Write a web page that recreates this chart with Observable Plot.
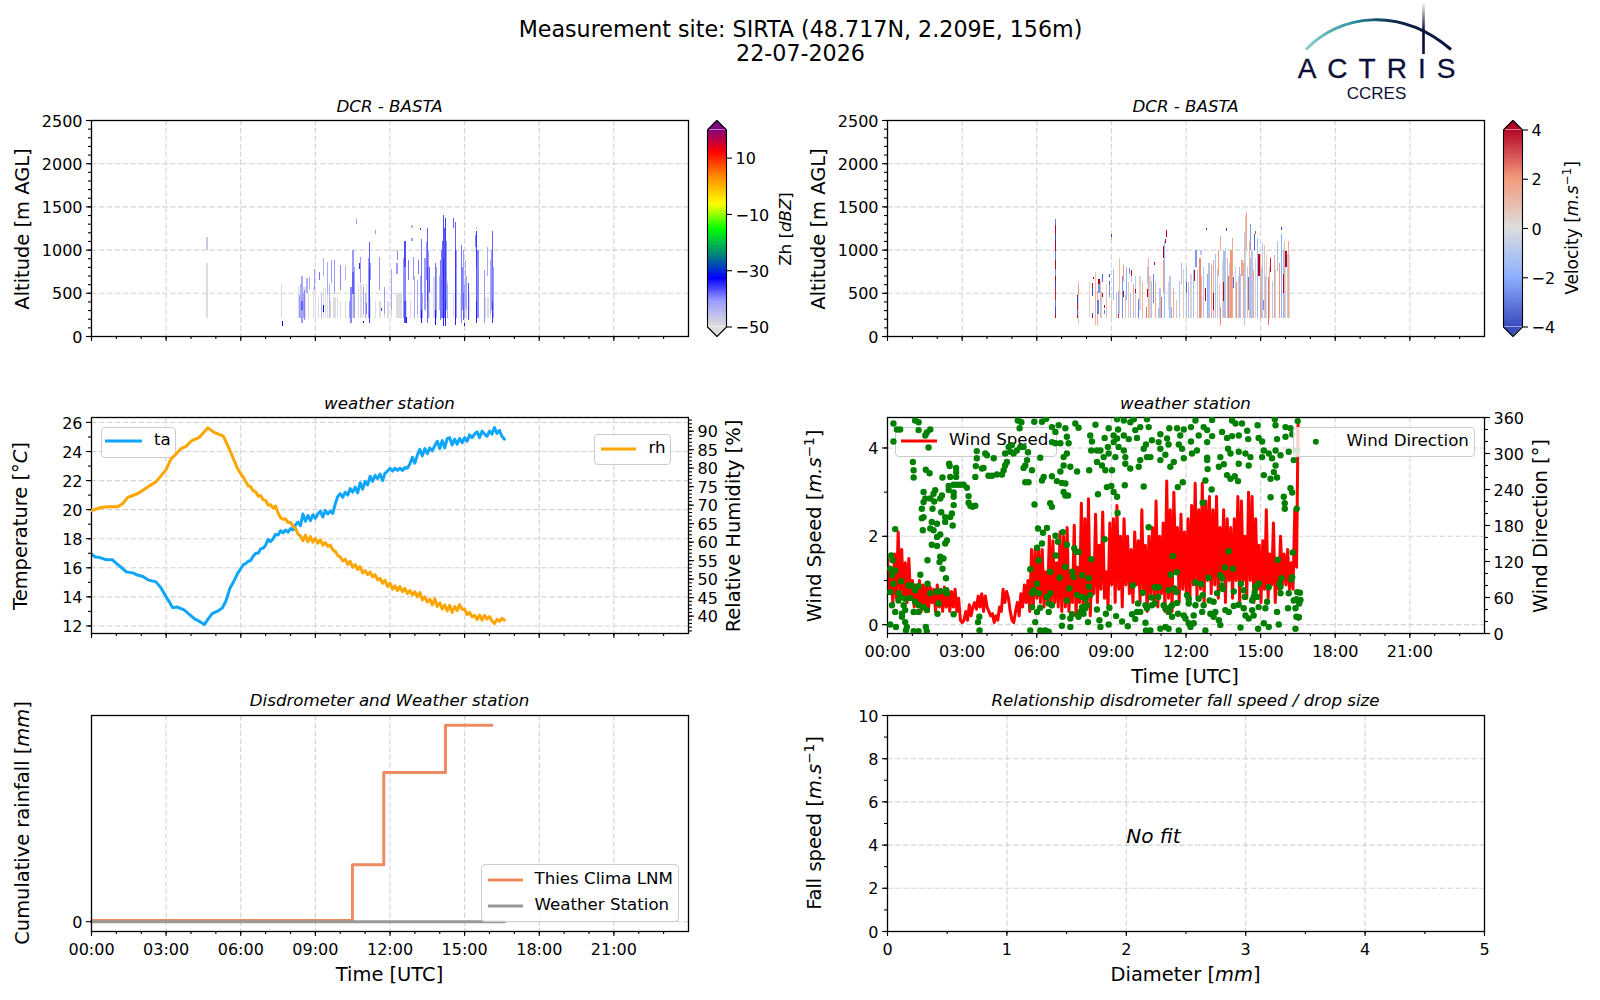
<!DOCTYPE html>
<html><head><meta charset="utf-8">
<script src="https://cdn.jsdelivr.net/npm/d3@7"></script>
<script src="https://cdn.jsdelivr.net/npm/@observablehq/plot@0.6"></script>
<style>
html,body{margin:0;padding:0;background:#fff;font-family:"DejaVu Sans",sans-serif;color:#000}
#page{position:relative;width:1600px;height:1000px;overflow:hidden}
.t{position:absolute;white-space:nowrap;transform:translate(-50%,-50%);line-height:1}
.v{position:absolute;white-space:nowrap;transform:translate(-50%,-50%) rotate(-90deg);line-height:1}
.v sup{font-size:.7em;line-height:0}
.leg{position:absolute;box-sizing:border-box;background:rgba(255,255,255,.8);border:1px solid #ccc;border-radius:4px}
.lt{position:absolute;white-space:nowrap;font-size:16.67px;line-height:1;transform:translateY(calc(-50% - .5px))}
.ll{position:absolute;height:3px;transform:translateY(-50%)}
.ld{position:absolute;width:6.4px;height:6.4px;border-radius:50%;background:green;transform:translate(-50%,-50%)}
</style></head><body><div id="page"></div>
<script>
// ---------- Radar reflectivity (DCR - BASTA) ----------
const zhBaseHours=[4.64,7.63,8.33,8.4,8.45,8.52,8.58,8.73,8.93,9.0,9.13,9.33,9.41,9.47,9.6,9.74,9.8,9.87,10.0,10.2,10.41,10.47,10.54,10.74,10.83,10.94,11.05,11.21,11.41,11.59,11.77,11.91,12.06,12.28,12.36,12.44,12.66,12.82,13.09,13.29,13.56,13.76,14.03,14.12,14.23,14.3,14.56,14.83,14.94,15.05,15.17,15.5,15.84,15.93,16.04,16.12];
const zhBaseTops=[850,600,570,570,570,570,570,500,570,570,450,560,560,560,420,450,450,450,400,400,570,570,570,600,600,600,600,450,400,400,380,400,450,500,500,500,420,400,500,400,450,680,650,650,650,650,500,500,500,500,500,420,450,450,450,450];
// pale echoes under the stronger streaks: [hour, bottom, top, dBZ]
const zhHaze=[[13.22,205,700,-42],[13.3,205,500,-43],[13.4,300,900,-42],[13.55,205,1000,-41],[13.58,500,800,-38],[14.0,300,700,-44],[14.09,205,1000,-39],[14.2,205,1250,-38],[14.27,300,1100,-41],[14.32,205,600,-43],[14.68,205,1000,-41],[14.9,300,800,-40],[15.0,205,600,-42],[15.08,300,700,-43],[15.53,205,1000,-40],[16.07,300,1000,-41],[16.16,205,800,-42],[12.55,205,900,-41],[12.98,205,700,-43],[13.87,205,800,-41],[11.13,205,900,-41],[11.0,205,500,-44],[10.55,205,800,-43],[10.38,205,400,-42],[9.55,205,600,-44],[9.25,205,500,-45],[8.42,205,600,-43],[8.5,205,500,-42]];
// [hour, bottom, top, dBZ]
const zhEchoes=[[4.64,990,1150,-47],[7.68,110,170,-33],[8.37,205,475,-41],[8.46,150,300,-42],[8.46,300,400,-38],[8.46,400,690,-43],[8.56,180,530,-40],[8.66,500,670,-44],[8.77,530,680,-44],[8.97,530,780,-42],[9.17,650,745,-39],[9.33,690,900,-44],[9.31,280,360,-33],[9.47,490,860,-43],[9.63,610,880,-42],[9.78,490,880,-41],[10.0,530,820,-40],[10.21,650,820,-45],[10.43,150,570,-40],[10.51,490,740,-38],[10.51,740,1000,-41],[10.57,260,650,-42],[10.81,610,920,-41],[10.78,780,840,-35],[10.94,260,570,-42],[10.94,150,170,-32],[11.04,260,380,-39],[11.18,150,400,-36],[11.18,400,800,-36],[11.18,800,1090,-38],[11.21,650,840,-41],[10.66,1296,1350,-41],[11.42,1180,1225,-41],[11.57,530,920,-41],[11.64,290,320,-36],[11.79,260,570,-41],[12.06,300,780,-43],[12.31,880,1000,-40],[12.28,720,840,-41],[12.6,150,400,-37],[12.6,400,800,-40],[12.6,800,1100,-37],[12.66,150,225,-34],[12.75,650,880,-39],[12.88,1250,1290,-45],[12.88,1100,1140,-42],[12.93,650,920,-41],[13.09,260,650,-43],[13.14,720,880,-39],[13.27,150,300,-34],[13.27,300,700,-39],[13.27,700,1120,-39],[13.23,1225,1245,-35],[13.5,150,400,-38],[13.5,400,800,-36],[13.5,800,1250,-38],[13.45,650,1090,-40],[13.83,130,300,-34],[13.83,300,840,-39],[14.03,190,880,-39],[14.16,110,500,-35],[14.16,500,900,-35],[14.16,900,1400,-37],[14.23,110,400,-35],[14.23,400,1360,-36],[14.07,650,920,-40],[14.11,700,1100,-38],[14.56,1250,1370,-38],[14.63,130,500,-35],[14.63,500,1000,-36],[14.63,1000,1320,-38],[14.87,150,500,-40],[14.87,500,1050,-39],[14.95,190,500,-38],[14.95,500,990,-41],[15.03,340,880,-44],[15.0,110,150,-32],[15.14,190,610,-37],[15.49,150,400,-35],[15.49,400,800,-38],[15.49,800,1210,-36],[15.43,1030,1170,-40],[15.49,1240,1265,-46],[15.8,150,760,-41],[15.92,690,1030,-43],[16.12,150,400,-36],[16.12,400,800,-39],[16.12,800,1210,-38],[16.04,260,880,-43]];
const zhStops=[-50,-41,-33,-25,-15.5,-6.7,3,11.8,20];
const zhColors=["#dddddd","#9a9aff","#0000ff","#008080","#00ff00","#ffff00","#ff8c00","#ff0000","#800080"];
// ---------- Radar velocity (DCR - BASTA) ----------
const velLight=[[8.12,205,620,.3],[8.6,205,520,-.8],[8.8,205,600,.8],[9.2,205,500,-1],[9.56,205,480,.9],[9.76,205,500,-1.4],[9.95,205,700,-.9],[10.25,205,620,1.2],[10.55,205,700,.3],[10.78,205,620,1.3],[10.95,205,560,-1.1],[11.35,205,700,-.9],[11.5,205,560,1.5],[11.9,205,780,.6],[12.1,205,620,-1.4],[12.2,205,720,.4],[12.45,205,760,-1],[12.62,205,700,1.4],[12.92,205,850,-1.2],[13.1,205,880,1.4],[13.26,205,780,-.8],[13.34,205,600,.6],[13.45,205,880,.2],[13.52,205,980,-1.3],[13.65,205,900,1.1],[13.76,205,850,-1],[13.8,205,1000,2],[13.98,205,800,-.6],[14.1,205,700,.7],[14.16,205,800,-1.6],[14.3,205,850,1.6],[14.36,130,1200,-1],[14.54,205,1100,1.2],[14.6,205,900,-1.4],[14.8,205,900,.3],[14.98,205,950,1.6],[15.03,205,800,-1.1],[15.15,205,1050,.8],[15.2,205,700,-1],[15.36,205,800,1.4],[15.6,205,780,-.7],[15.75,205,850,2],[15.9,205,1000,-1.6],[16.0,205,900,.3],[16.12,205,1100,1.6],[16.17,205,950,.2]];
const velEchoes=[[6.76,205,260,4],[6.76,260,330,-4],[6.76,330,420,-3],[6.76,420,560,3.6],[6.76,560,640,-4],[6.76,640,700,4],[6.76,700,780,-2.5],[6.76,780,880,4],[6.76,880,980,-3],[6.76,980,1100,4],[6.76,1100,1180,-4],[6.76,1180,1280,4],[6.76,1280,1350,-3],
[7.62,205,240,4],[7.62,240,300,-3],[7.62,300,380,3.5],[7.62,380,450,-4],[7.62,450,470,4],[7.69,130,270,.2],[7.69,270,470,.1],[7.69,470,590,2.2],[7.69,590,650,.2],
[8.25,205,230,4],[8.25,230,270,-4],[8.25,460,570,-4],[8.25,570,610,4],[8.28,660,680,4],[8.35,130,600,1.2],[8.35,600,740,.7],[8.43,130,520,1.5],[8.46,260,420,-3],[8.5,600,660,4],[8.5,500,600,-2.5],[8.56,205,640,1.1],[8.65,620,720,-3.5],[8.65,450,500,4],[8.73,320,360,4],[8.73,260,300,-3],
[8.93,450,590,-2.5],[8.93,590,640,-3.5],[8.93,680,720,-4],[8.99,1110,1150,1.5],[8.99,1150,1180,-4],[9.02,205,420,.8],[9.1,420,780,-1.5],[9.27,205,260,3.5],[9.27,260,520,-2],[9.34,250,900,1],[9.43,205,700,-2.6],[9.5,640,820,2],[9.5,450,520,4],[9.6,420,800,-2],[9.68,205,630,.6],[9.72,720,790,-2.8],[9.82,700,760,4],[9.82,620,680,-1],[9.88,205,600,1.5],[9.98,500,540,4],[10.1,205,430,-3],[10.15,300,700,.4],
[10.4,205,330,2.5],[10.45,450,540,4],[10.45,600,800,-1.2],[10.48,205,900,1.4],[10.6,205,640,-1.2],[10.68,380,720,-2.8],[10.72,820,860,4],[10.88,205,320,-1.2],[11.0,205,450,2.5],[11.08,900,1040,4],[11.08,500,880,2],[11.12,205,1100,-1.5],[11.18,1080,1120,4],[11.2,1150,1230,4],[11.28,300,620,.2],[11.42,205,340,-2],[11.6,205,420,1],[11.74,205,640,-1],[11.82,600,840,-1.4],[12.0,205,800,-1.2],[12.0,500,620,-3.5],[12.3,205,780,-1.3],[12.33,640,760,4],[12.4,800,1000,-2.5],[12.56,205,900,2.2],[12.6,940,990,-1],[12.7,205,800,-1],[12.78,400,560,4],[12.82,1230,1250,4],[12.85,205,720,-2],[13.02,205,820,1.8],[13.12,300,500,4],[13.2,205,950,-1.2],[13.3,700,1000,2],[13.38,130,330,2.2],[13.4,1000,1160,1.5],[13.5,400,620,4],[13.58,205,1020,-1],[13.62,1210,1250,-4],[13.7,205,700,2.5],[13.85,205,1130,1.6],[13.92,560,680,-3.4],[14.04,205,620,2.1],[14.2,205,720,-1.2],[14.25,700,880,1.7],[14.4,205,1400,.7],[14.43,1000,1440,1.7],[14.47,205,800,-.8],[14.5,300,680,-3],[14.6,1000,1300,-2.5],[14.65,205,980,-1],[14.72,205,760,1.5],[14.76,1000,1180,-3.5],[14.8,1180,1220,3],[14.88,205,1130,-1.4],[14.93,700,950,4],[15.0,205,500,2],[15.08,205,1080,-1],[15.12,300,420,-2.6],[15.25,205,950,.2],[15.3,130,680,2.5],[15.4,740,900,3.8],[15.48,205,640,-1],[15.55,205,940,1.6],[15.68,750,1100,-1.2],[15.82,205,1180,-2],[15.85,1230,1260,-4],[15.9,500,720,4],[15.96,205,1100,1.2],[16.02,800,980,4],[16.08,205,950,-.8]];
const velStops=[-4,-2,0,2,4];
const velColors=["#3b4cc0","#8db0fe","#dddddd","#f49a7b","#b40426"];
// ---------- Weather station: temperature and humidity ----------
const taHours=[0,.15,.3,.43,.6,.84,1.0,1.25,1.4,1.66,1.85,2.07,2.3,2.59,2.8,3.0,3.15,3.26,3.45,3.72,3.9,4.13,4.3,4.54,4.7,4.85,5.05,5.26,5.4,5.56,5.7,5.87,6.0,6.1,6.2,6.3,6.4,6.5,6.6,6.7,6.8,6.9,7.0,7.1,7.2,7.3,7.4,7.5,7.6,7.7,7.8,7.9,8.0,8.1,8.2,8.3,8.4,8.5,8.6,8.7,8.8,8.9,9.0,9.1,9.2,9.3,9.4,9.5,9.6,9.7,9.8,9.9,10.0,10.1,10.2,10.3,10.4,10.5,10.6,10.7,10.8,10.9,11.0,11.1,11.2,11.3,11.4,11.5,11.6,11.7,11.8,11.9,12.0,12.1,12.2,12.3,12.4,12.5,12.6,12.7,12.8,12.9,13.0,13.1,13.2,13.3,13.4,13.5,13.6,13.7,13.8,13.9,14.0,14.1,14.2,14.3,14.4,14.5,14.6,14.7,14.8,14.9,15.0,15.1,15.2,15.3,15.4,15.5,15.6,15.7,15.8,15.9,16.0,16.1,16.2,16.3,16.4,16.5,16.6];
const taValues=[16.93,16.75,16.72,16.65,16.55,16.55,16.3,15.95,15.72,15.65,15.5,15.4,15.15,15.03,14.6,14.0,13.6,13.26,13.3,13.1,12.85,12.5,12.35,12.1,12.5,12.85,13.0,13.24,13.7,14.57,15.0,15.6,15.95,16.2,16.3,16.45,16.5,16.8,17.0,17.0,17.3,17.35,17.55,17.95,17.8,18.0,18.3,18.25,18.55,18.4,18.6,18.45,18.7,18.6,18.95,19.15,18.9,19.7,19.2,19.6,19.25,19.65,19.4,19.7,19.9,19.5,19.95,19.7,19.9,19.75,20.4,20.9,21.1,20.85,21.2,21.0,21.45,21.2,21.55,21.15,21.85,21.4,21.95,21.7,22.3,21.95,22.35,22.15,22.45,22.0,22.5,22.65,22.85,22.65,22.85,22.7,22.85,22.7,22.9,22.85,23.15,23.6,23.2,23.75,24.15,23.7,24.2,23.85,24.25,24.05,24.4,24.7,24.2,24.75,24.25,24.9,24.95,24.45,24.85,24.5,24.9,24.6,24.95,24.7,25.15,24.95,25.2,25.35,24.95,25.4,25.2,25.05,25.4,25.2,25.65,25.25,25.45,25.05,24.85];
const rhHours=[0,.33,.64,1.05,1.25,1.46,1.87,2.28,2.59,3.0,3.2,3.35,3.6,3.8,4.02,4.33,4.68,4.95,5.3,5.56,5.87,6.0,6.1,6.2,6.3,6.4,6.5,6.6,6.7,6.8,6.9,7.0,7.1,7.2,7.3,7.4,7.5,7.6,7.7,7.8,7.9,8.0,8.1,8.2,8.3,8.4,8.5,8.6,8.7,8.8,8.9,9.0,9.1,9.2,9.3,9.4,9.5,9.6,9.7,9.8,9.9,10.0,10.1,10.2,10.3,10.4,10.5,10.6,10.7,10.8,10.9,11.0,11.1,11.2,11.3,11.4,11.5,11.6,11.7,11.8,11.9,12.0,12.1,12.2,12.3,12.4,12.5,12.6,12.7,12.8,12.9,13.0,13.1,13.2,13.3,13.4,13.5,13.6,13.7,13.8,13.9,14.0,14.1,14.2,14.3,14.4,14.5,14.6,14.7,14.8,14.9,15.0,15.1,15.2,15.3,15.4,15.5,15.6,15.7,15.8,15.9,16.0,16.1,16.2,16.3,16.4,16.5,16.6];
const rhValues=[68.5,69.3,69.55,69.55,70.4,72.1,73.15,75,76.3,79.6,82.5,83.5,85.3,85.9,87.4,88.3,90.9,89.6,88.65,84.9,79.9,78.5,77.6,76.4,75.2,75.0,73.9,73.6,72.4,72.6,71.5,71.3,70.0,70.1,69.2,69.8,67.9,66.6,66.2,66.3,65.3,65.4,64.3,63.8,62.2,61.6,60.4,61.9,60.1,61.5,60.0,61.0,59.7,60.6,59.2,59.9,58.8,59.2,57.9,57.5,56.4,56.0,54.9,55.4,54.0,54.8,53.2,53.9,52.6,53.4,51.7,52.3,51.2,51.9,50.6,51.2,49.8,50.2,48.9,49.7,48.0,48.9,47.3,48.2,46.9,48.0,46.6,47.5,46.1,46.9,45.7,46.6,45.2,46.4,44.4,45.2,43.8,44.6,43.0,44.7,42.6,43.6,41.9,43.0,41.4,42.9,41.0,42.6,41.5,43.1,41.8,41.9,40.4,41.0,39.8,40.2,39.1,40.3,38.9,40.2,39.2,39.9,38.7,38.0,39.1,38.6,39.4,38.9];
// ---------- Weather station: wind ----------
const windStepHours=.0715;
const windSpeed=[1.5,.7,1.2,.5,1.6,.6,2.1,.7,1.7,.6,1.4,.5,1.5,.6,
1.0,.4,.9,.5,1.0,.3,.9,.4,.95,.3,.85,.5,.8,.3,
.9,.4,.8,.3,.85,.4,.8,.3,.75,.4,.8,.3,.6,.1,
.05,.1,.3,.1,.45,.2,.4,.5,.35,.65,.4,.7,.3,.65,
.4,.3,.2,.25,.05,.2,.1,.4,.3,.8,.5,.75,.6,.3,
.1,.05,.3,.5,.2,.7,.4,.9,.5,1.0,.3,1.7,.4,1.7,
.6,1.75,.5,1.7,.4,1.2,.5,2.0,.4,1.9,.5,1.4,.4,2.1,
.3,2.0,.4,2.2,.3,1.2,.5,2.25,.2,1.3,.5,2.75,.3,2.4,
.4,2.85,.2,1.5,.7,2.5,.5,1.8,.8,2.55,.6,1.2,.4,2.3,
.9,2.4,.5,2.7,.8,2.0,.4,2.4,.9,2.0,.7,1.7,.5,2.1,
.9,1.9,.5,2.6,.8,1.8,.3,2.0,.7,2.2,.5,2.8,.4,2.0,
.7,2.3,.3,3.25,.6,2.6,.3,3.0,1.2,2.2,.5,2.5,.8,2.1,
.7,2.4,.5,2.7,.9,3.2,.6,2.6,.8,3.2,.5,2.8,1.0,2.9,
.7,2.6,.9,2.9,.6,2.2,1.0,2.6,.5,2.4,1.0,2.2,.6,2.4,
1.0,2.9,.5,2.8,1.0,2.0,.6,3.0,1.0,2.9,.5,2.4,.8,1.8,
.5,1.9,.8,2.6,.6,1.6,.9,2.3,.5,1.5,.8,2.0,.9,1.6,
.9,1.7,.8,1.4,.8,2.6,1.3,5.2];
const windDirection=[[.24,350],[.38,340],[.51,340],[.24,320],[1.11,355],[1.25,352],[1.25,339],[1.72,340],[1.58,335],[1.52,330],[1.65,310],[1.02,286],[1.05,272],[1.05,260],[1.54,273],[1.69,267],[2.48,283],[2.5,279],[2.76,276],[2.76,269],[2.21,260],[2.52,261],[2.76,261],[2.19,230],[1.45,236],[1.92,239],[1.85,233],[2.46,246],[2.66,248],[2.79,248],[2.92,248],[3.06,248],[3.19,243],[1.52,225],[1.45,219],[1.72,225],[1.88,220],[2.12,225],[2.46,239],[2.66,235],[3.26,229],[3.26,218],[3.33,213],[3.42,211],[3.53,213],[2.66,214],[2.66,228],[1.38,208],[1.81,208],[2.16,202],[2.59,200],[1.45,194],[1.38,192],[2.32,194],[2.52,194],[2.32,186],[2.62,180],[1.78,186],[1.99,183],[1.72,175],[1.85,172],[1.42,172],[2.12,165],[1.99,161],[2.39,155],[2.32,150],[1.78,148],[1.99,146],[2.12,128],[2.25,125],[2.09,119],[2.21,108],[1.61,122],[1.32,98],[.31,174],[.15,130],[.2,122],[2.35,92],[1.61,83],
[3.53,261],[3.59,304],[3.59,292],[3.55,279],[3.8,275],[3.86,276],[3.93,300],[4.0,297],[4.27,292],[4.06,263],[4.2,263],[4.4,265],[4.6,265],[4.67,272],[4.73,280],[4.8,286],[4.73,300],[4.94,303],[5.07,300],[5.2,305],[4.87,311],[5.0,314],[5.34,311],[5.47,311],[5.31,342],[5.24,355],[5.38,352],[5.9,353],[6.21,353],[6.38,358],[5.65,302],[6.14,293],[5.61,289],[5.54,280],[5.47,276],[5.81,272],[6.28,261],[6.61,262],[5.54,252],[5.67,252],[6.81,254],[7.01,251],[7.15,250],[6.21,255],[6.61,319],[6.75,317],[6.95,317],[7.21,328],[7.28,317],[6.75,336],[6.61,344],[6.88,347],[7.15,342],[7.55,350],[7.68,343],[8.15,330],[8.22,320],[8.19,305],[7.08,294],[7.21,300],[7.08,280],[7.35,278],[6.95,270],[7.62,270],[8.11,272],[7.08,236],[7.15,230],[7.26,230],[5.91,215],[6.54,217],[6.61,211],[6.05,175],[6.21,150],[6.41,176],[6.25,168],[6.75,163],[6.85,153],[7.05,169],[7.21,148],[6.01,143],[7.51,142],[7.58,136],[7.68,136],[6.77,130],[6.08,122],[8.19,124],[7.15,111],
[.11,108],[.31,105],[.18,97],[5.74,107],[6.54,103],[6.92,93],[7.82,97],[7.42,103],[7.48,94],[8.09,92],[.55,87],[.24,83],[.85,80],[.98,80],[1.25,79],[1.11,72],[1.72,67],[1.99,70],[2.12,70],[2.35,72],[2.39,67],[.44,67],[.51,61],[.44,55],[.11,69],[.18,47],[.71,58],[.91,59],[1.11,53],[1.25,47],[.65,47],[1.45,44],[1.58,39],[2.05,50],[2.66,32],[2.01,33],[.71,39],[.31,36],[.58,33],[1.05,36],[1.25,36],[5.87,72],[6.01,83],[5.81,67],[6.08,67],[6.54,67],[6.41,61],[7.31,75],[7.62,64],[7.82,61],[7.95,58],[8.09,78],[8.15,64],[6.48,50],[5.81,44],[6.01,36],[6.14,43],[6.61,47],[7.21,55],[7.82,44],[7.95,42],[8.02,47],[7.75,36],[7.42,32],[7.88,33],[7.04,28],[6.48,36],[5.94,19],[7.35,25],[7.68,28],[8.06,19],[7.01,13],[6.14,5],[6.34,5],[6.48,3],[5.74,5],[7.35,11],[.11,15],[.34,11],[.71,19],[.78,11],[1.05,4],[1.25,4],[1.54,11],[1.58,4],[3.69,28],[3.64,19],[3.7,5],[.74,5],[.58,28],
[8.36,348],[8.89,342],[9.23,357],[9.5,355],[9.9,357],[10.43,357],[9.27,340],[9.76,352],[9.96,339],[10.16,344],[10.5,344],[8.73,326],[9.09,330],[9.23,325],[9.5,330],[9.7,324],[10.03,326],[10.63,322],[10.39,315],[10.3,308],[10.97,332],[11.33,342],[11.64,342],[11.77,330],[11.91,340],[12.2,344],[12.38,355],[12.51,330],[12.71,344],[12.85,339],[13.05,356],[13.05,329],[13.45,336],[13.85,355],[13.99,350],[14.25,350],[14.46,338],[14.88,347],[15.57,357],[15.6,347],[16.0,344],[16.2,342],[16.49,354],[11.3,315],[11.71,315],[11.24,325],[10.9,319],[10.97,308],[11.84,308],[12.2,320],[12.85,319],[13.65,326],[13.85,329],[14.12,330],[14.5,324],[14.92,326],[15.06,320],[15.66,324],[16.0,328],[16.27,332],[8.42,305],[8.56,305],[8.86,311],[9.09,319],[9.29,311],[9.5,305],[9.56,294],[9.16,294],[8.89,300],[8.69,294],[8.42,286],[8.62,280],[8.76,272],[9.03,272],[9.56,283],[9.76,275],[10.16,289],[10.1,278],[10.43,294],[10.57,294],[10.97,289],[11.17,298],[11.51,286],[11.37,278],[11.91,292],[12.24,300],[12.44,305],[12.85,293],[12.85,289],[13.38,294],[13.69,308],[13.79,300],[14.12,303],[14.39,300],[14.59,294],[14.52,280],[14.12,283],[13.52,282],[13.32,278],[15.13,305],[15.33,300],[15.6,305],[15.8,297],[15.06,294],[15.46,292],[16.13,303],[16.33,289],[16.47,305],[15.6,280],[15.53,269],[15.66,260],[15.13,264],[15.4,258],[13.65,264],[13.79,258],[13.96,262],[14.09,254],[12.87,274],[12.78,255],[11.87,252],[11.67,244],[10.3,245],[9.54,247],[8.82,244],[9.0,246],[9.09,236],[9.23,228],[8.46,232],[9.25,201],[12.67,218],[13.03,240],[15.4,227],[15.93,228],[15.97,217],[15.97,208],[16.2,242],[16.27,235],[16.45,208],[10.5,177],[8.73,157],[11.47,129],[13.72,137],[13.56,110],[13.88,108],[15.69,123],[16.29,135],[11.39,98],[11.63,102],[12.91,93],[13.38,97],[13.45,92],[13.45,80],[13.48,74],[13.92,70],[14.21,83],[14.32,72],[14.36,61],[14.79,78],[14.76,69],[14.92,83],[14.72,61],[14.66,55],[14.86,61],[15.33,77],[15.84,92],[15.76,83],[15.8,78],[15.8,67],[16.27,94],[16.24,90],[16.13,67],[16.47,69],[16.44,57],[16.33,55],[16.56,55],
[9.86,80],[10.26,68],[10.74,77],[10.9,77],[10.61,60],[10.88,61],[11.3,72],[11.53,75],[11.61,69],[12.04,64],[12.11,58],[12.38,85],[12.61,82],[12.67,64],[12.51,58],[13.25,67],[12.95,55],[13.11,53],[12.38,47],[12.11,50],[11.64,51],[10.74,50],[10.63,47],[10.07,50],[10.37,47],[10.43,42],[10.03,36],[10.16,36],[9.83,32],[9.96,24],[11.1,47],[11.17,42],[11.37,44],[11.44,47],[11.3,36],[11.44,28],[11.68,33],[11.91,30],[11.98,25],[12.31,30],[12.11,17],[12.71,47],[12.65,36],[12.98,33],[13.18,36],[13.11,28],[13.32,22],[13.38,14],[13.58,39],[13.72,36],[13.92,46],[14.12,48],[14.32,42],[14.39,30],[14.66,39],[14.92,44],[14.72,30],[15.19,42],[15.26,53],[15.66,36],[16.1,42],[16.4,42],[16.44,28],[16.53,27],[14.52,25],[14.9,8],[15.13,17],[15.33,11],[15.73,15],[16.4,8],[14.19,10],[10.37,18],[10.39,5],[10.57,5],[10.97,8],[11.17,11],[11.3,8],[11.71,5],[12.18,11],[12.31,17],[12.78,5],[9.19,29],[9.43,20],[9.66,12],[8.89,15],[8.78,33],[8.92,43],[8.42,40],[8.52,22],[8.56,11],[16.58,68],[16.6,56],[16.55,50],[16.5,27],[16.53,27]];
// ---------- Cumulative rainfall ----------
const thiesHours=[0,10.49,11.75,14.23,16.1];
const thiesRain=[.006,.29,.76,1,1];
const stationHours=[0,16.6];
const stationRain=[0,0];
// ---------- Axis ticks ----------
const hourMajor=[0,3,6,9,12,15,18,21];
const hourMinor=d3.range(0,24);
const altMajor=[0,500,1000,1500,2000,2500], altMinor=d3.range(0,2501,100);
const fmtHour=h=>String(h).padStart(2,"0")+":00";
const none=()=>"";

const page=document.getElementById("page");
const TICK="#000", GRID="#d3d3d3", DASH="5.5,2.4";
const M=90;
function panel(box,xDom,yDom,marks,extra={}){
  const [L,R,T,B]=box;
  const svg=Plot.plot({width:R-L+2*M,height:B-T+2*M,marginLeft:M,marginRight:M,marginTop:M,marginBottom:M,
    x:{domain:xDom,axis:null,...(extra.x||{})},y:{domain:yDom,axis:null,...(extra.y||{})},color:extra.color,
    style:{position:"absolute",left:(L-M)+"px",top:(T-M)+"px",background:"transparent",overflow:"visible",
      fontFamily:"'DejaVu Sans'",fontSize:"16px",color:"#000",maxWidth:"none",pointerEvents:"none"},
    marks});
  page.appendChild(svg);return svg;
}
const xAxes=(maj,min,fmt)=>[
  Plot.axisX({ticks:min,tickSize:3,tickFormat:none,label:null,stroke:TICK,strokeWidth:1.1}),
  Plot.axisX({ticks:maj,tickSize:5,tickPadding:7,tickFormat:fmt,label:null,stroke:TICK,strokeWidth:1.1,fill:"#000"})];
const yAxes=(maj,min,fmt=d3.format("d"),anchor="left")=>[
  Plot.axisY({anchor,ticks:min,tickSize:3,tickFormat:none,label:null,stroke:TICK,strokeWidth:1.1}),
  Plot.axisY({anchor,ticks:maj,tickSize:5,tickFormat:none,label:null,stroke:TICK,strokeWidth:1.1}),
  Plot.axisY({anchor,ticks:maj,tickSize:0,tickPadding:9,dy:1,tickFormat:fmt,label:null,fill:"#000"})];
const grids=(xs,ys)=>[
  Plot.gridX(xs,{x:d=>d,stroke:GRID,strokeOpacity:1,strokeDasharray:DASH,strokeWidth:1.1}),
  Plot.gridY(ys,{y:d=>d,stroke:GRID,strokeOpacity:1,strokeDasharray:DASH,strokeWidth:1.1})];
const frame=()=>Plot.frame({stroke:"#000",strokeWidth:1.3});
function html(cls,x,y,size,inner,style=""){
  const d=document.createElement("div");d.className=cls;
  d.style.cssText=`left:${x}px;top:${y}px;font-size:${size}px;${style}`;d.innerHTML=inner;page.appendChild(d);return d;
}
function legend(x0,y0,x1,y1,rows){
  const d=document.createElement("div");d.className="leg";
  d.style.cssText=`left:${x0}px;top:${y0}px;width:${x1-x0}px;height:${y1-y0}px`;page.appendChild(d);
  for(const r of rows){
    if(r.dot){const s=document.createElement("div");s.className="ld";s.style.cssText=`left:${r.x1}px;top:${r.y}px`;page.appendChild(s);}
    else{const s=document.createElement("div");s.className="ll";s.style.cssText=`left:${r.x1}px;top:${r.y}px;width:${r.x2-r.x1}px;background:${r.c}`;page.appendChild(s);}
    const t=document.createElement("div");t.className="lt";t.style.cssText=`left:${r.tx}px;top:${r.y}px`;t.textContent=r.t;page.appendChild(t);
  }
}
const LX=[91,688],RX=[887,1484];
const rowA=[120,336],rowB=[417,633],rowC=[715,931];
const echoRows=(rows,w)=>rows.map(([h,a,b,v])=>({h0:h,h1:h+w,a,b,v}));
const cells=(rows,w)=>Plot.rect(echoRows(rows,w),{x1:"h0",x2:"h1",y1:"a",y2:"b",fill:"v",shapeRendering:"crispEdges"});

// ---- radar reflectivity
const zhBase=zhBaseHours.map((h,i)=>[h,205,zhBaseTops[i],-50]);
const zhColor={type:"linear",domain:zhStops,range:zhColors,clamp:true};
panel([...LX,...rowA],[0,24],[0,2500],[
  ...grids(hourMajor.slice(1),altMajor.slice(1,-1)),
  cells(zhBase,.05),cells(zhHaze,.05),cells(zhEchoes,.045),
  ...xAxes(hourMajor,hourMinor,none),...yAxes(altMajor,altMinor),frame()],{color:zhColor});
// ---- radar velocity
const velColor={type:"linear",domain:velStops,range:velColors,clamp:true};
panel([...RX,...rowA],[0,24],[0,2500],[
  ...grids(hourMajor.slice(1),altMajor.slice(1,-1)),
  cells(velLight,.05),cells(velEchoes,.045),
  ...xAxes(hourMajor,hourMinor,none),...yAxes(altMajor,altMinor),frame()],{color:velColor});
// ---- colour bars
function colorbar(box,lo,hi,step,ext,scale,ticks,topC,botC){
  const levels=d3.range(lo,hi,step).map(v=>({v,v1:v+step}));
  const outline=[[0,lo],[.5,lo-ext],[1,lo],[1,hi],[.5,hi+ext],[0,hi],[0,lo]];
  panel(box,[0,1],[lo-ext,hi+ext],[
    Plot.rect(levels,{x1:()=>0,x2:()=>1,y1:"v",y2:"v1",fill:"v",shapeRendering:"crispEdges"}),
    Plot.areaX([{y:lo,a:0,b:1},{y:lo-ext,a:.5,b:.5}],{x1:"a",x2:"b",y:"y",fill:botC}),
    Plot.areaX([{y:hi,a:0,b:1},{y:hi+ext,a:.5,b:.5}],{x1:"a",x2:"b",y:"y",fill:topC}),
    Plot.line(outline,{x:"0",y:"1",stroke:"#000",strokeWidth:1.1}),
    ...yAxes(ticks,[],d3.format("d"),"right")],{color:scale});
}
colorbar([707,726,...rowA],-50,20,.5,3.38,zhColor,[-50,-30,-10,10],"#800080","#dddddd");
colorbar([1503,1522,...rowA],-4,4,.05,.386,velColor,[-4,-2,0,2,4],"#b40426","#3b4cc0");

// ---- temperature + humidity
panel([...LX,...rowB],[0,24],[11.48,26.34],[
  ...grids(hourMajor.slice(1),[12,14,16,18,20,22,24,26]),
  Plot.line(taHours.map((h,i)=>[h,taValues[i]]),{x:"0",y:"1",stroke:"#0ea5fb",strokeWidth:3,clip:true}),
  ...xAxes(hourMajor,hourMinor,none),...yAxes([12,14,16,18,20,22,24,26],d3.range(12,27)),frame()]);
legend(100.5,427,176,457.5,[{x1:105,x2:142,y:441,c:"#0ea5fb",t:"ta",tx:154}]);
panel([...LX,...rowB],[0,24],[35.3,93.7],[
  Plot.line(rhHours.map((h,i)=>[h,rhValues[i]]),{x:"0",y:"1",stroke:"#ffa500",strokeWidth:3,clip:true}),
  ...yAxes(d3.range(40,91,5),d3.range(36,94),d3.format("d"),"right")]);
legend(594,434,671,465,[{x1:600.5,x2:636,y:449,c:"#ffa500",t:"rh",tx:648.5}]);

// ---- wind
panel([...RX,...rowB],[0,24],[-.2,4.69],[
  ...grids(hourMajor.slice(1),[0,2,4]),
  Plot.line(windSpeed.map((v,i)=>[i*windStepHours,v]),{x:"0",y:"1",stroke:"#ff0000",strokeWidth:3,clip:true}),
  ...xAxes(hourMajor,hourMinor,fmtHour),...yAxes([0,2,4],[0,1,2,3,4]),frame()]);
legend(895,427,1057,457,[{x1:901,x2:937,y:441,c:"#ff0000",t:"Wind Speed",tx:949}]);
panel([...RX,...rowB],[0,24],[0,360],[
  Plot.dot(windDirection,{x:"0",y:"1",r:3.2,fill:"#008000",clip:true}),
  ...yAxes(d3.range(0,361,60),d3.range(0,361,20),d3.format("d"),"right")]);
legend(1293,427,1475,457,[{dot:true,x1:1316,y:442,t:"Wind Direction",tx:1346.5}]);

// ---- rainfall
panel([...LX,...rowC],[0,24],[-.05,1.05],[
  ...grids(hourMajor.slice(1),[0]),
  Plot.line(thiesHours.map((h,i)=>[h,thiesRain[i]]),{x:"0",y:"1",stroke:"#ef8a62",strokeWidth:3,curve:"step-after"}),
  Plot.line(stationHours.map((h,i)=>[h,stationRain[i]]),{x:"0",y:"1",stroke:"#999999",strokeWidth:3}),
  ...xAxes(hourMajor,hourMinor,fmtHour),...yAxes([0],[]),frame()]);
legend(480.8,864,678.8,921.5,[
  {x1:487.5,x2:522.5,y:879.5,c:"#ef8a62",t:"Thies Clima LNM",tx:534.5},
  {x1:487.5,x2:522.5,y:905.5,c:"#999999",t:"Weather Station",tx:534.5}]);

// ---- fall speed
panel([...RX,...rowC],[0,5],[0,10],[
  ...grids([1,2,3,4],[2,4,6,8]),
  Plot.text(["No fit"],{x:()=>2,y:()=>4,text:d=>d,textAnchor:"start",lineAnchor:"bottom",fontSize:20,fontStyle:"italic",fill:"#000",dy:-2}),
  ...xAxes([0,1,2,3,4,5],d3.range(0,5.01,.5),d3.format("d")),...yAxes([0,2,4,6,8,10],d3.range(0,11)),frame()]);

// ---- text
html("t",800.5,29,22.2,"Measurement site: SIRTA (48.717N, 2.209E, 156m)");
html("t",800.5,52.5,22.2,"22-07-2026");
const title=(x,y,s)=>html("t",x,y,16.67,s,"font-style:italic");
title(389.5,107,"DCR - BASTA");title(1185.5,107,"DCR - BASTA");
title(389.5,404,"weather station");title(1185.5,404,"weather station");
title(389.5,700.5,"Disdrometer and Weather station");title(1185.5,700.5,"Relationship disdrometer fall speed / drop size");
const AX=19.44;
html("v",22.5,229,AX,"Altitude [m AGL]");
html("v",819,229,AX,"Altitude [m AGL]");
html("v",21,525.5,AX,"Temperature [°<i>C</i>]");
html("v",734,526,AX,"Relative Humidity [%]");
html("v",815,526,AX,"Wind Speed [<i>m.s</i><sup>−1</sup>]");
html("v",1541,526,AX,"Wind Direction [°]");
html("v",22.5,823,AX,"Cumulative rainfall [<i>mm</i>]");
html("v",815,823,AX,"Fall speed [<i>m.s</i><sup>−1</sup>]");
html("v",786,229,16.67,"Zh [<i>dBZ</i>]");
html("v",1572,228,17,"Velocity [<i>m.s</i><sup>−1</sup>]");
html("t",1185,677,AX,"Time [UTC]");
html("t",389.5,975,AX,"Time [UTC]");
html("t",1185.5,975,AX,"Diameter [<i>mm</i>]");

// ---- logo
const logo=document.createElement("div");
logo.style.cssText="position:absolute;left:1290px;top:0;width:180px;height:60px";
logo.innerHTML=`<svg width="180" height="60" viewBox="1290 0 180 60" style="overflow:visible">
<defs><linearGradient id="arc" x1="1306" x2="1452" y1="0" y2="0" gradientUnits="userSpaceOnUse">
<stop offset="0" stop-color="#8fd0c8"/><stop offset=".3" stop-color="#2f97a5"/><stop offset=".62" stop-color="#0e2547"/><stop offset="1" stop-color="#0b0f38"/></linearGradient>
<linearGradient id="mast" x1="0" x2="0" y1="2" y2="30" gradientUnits="userSpaceOnUse"><stop offset="0" stop-color="#0b0f38" stop-opacity="0"/><stop offset="1" stop-color="#0b0f38"/></linearGradient></defs>
<path d="M1306 49.5 C1340 14 1400 6 1451 49.5" fill="none" stroke="url(#arc)" stroke-width="3"/>
<rect x="1422.2" y="2" width="2.6" height="52" fill="url(#mast)"/></svg>`;
page.appendChild(logo);
const FONT="font-family:'Liberation Sans';color:#0b0f38;line-height:.8;";
html("t",1376.5,68.6,28,"ACTRIS",FONT+"letter-spacing:11px;padding-left:11px;-webkit-text-stroke:.3px #0b0f38");
html("t",1376.5,93.6,17,"CCRES",FONT);
</script></body></html>
